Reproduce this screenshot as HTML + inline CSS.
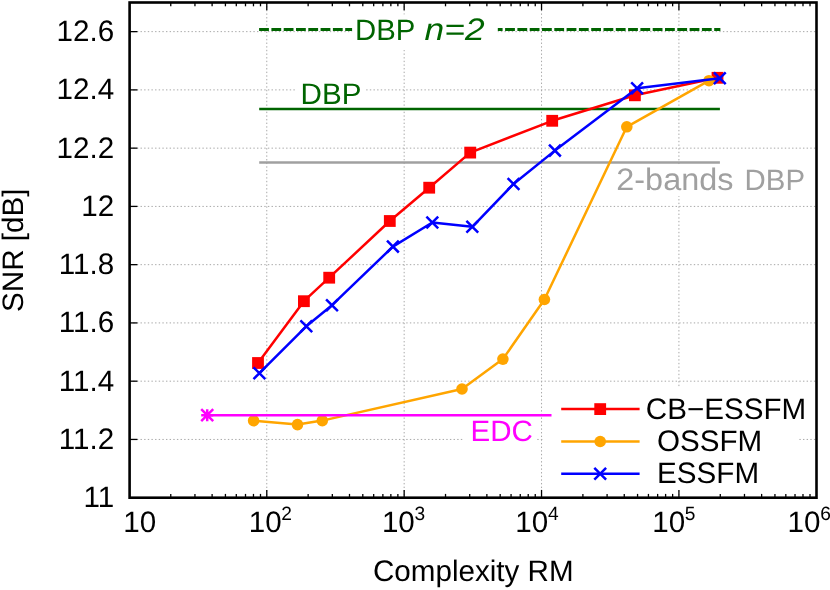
<!DOCTYPE html>
<html lang="en"><head><meta charset="utf-8"><title>SNR vs Complexity RM</title>
<style>html,body{margin:0;padding:0;background:#fff;}body{width:830px;height:590px;overflow:hidden;font-family:"Liberation Sans", sans-serif;}svg{display:block;will-change:transform;text-rendering:geometricPrecision;}text{font-family:"Liberation Sans", sans-serif;}</style>
</head><body>
<svg width="830" height="590" viewBox="0 0 830 590">
<rect x="0" y="0" width="830" height="590" fill="#ffffff"/>
<g stroke="#a8a8a8" stroke-width="1" stroke-dasharray="1.4 2.24" fill="none">
<line x1="129.60" y1="439.44" x2="816.50" y2="439.44"/>
<line x1="129.60" y1="381.18" x2="816.50" y2="381.18"/>
<line x1="129.60" y1="322.92" x2="816.50" y2="322.92"/>
<line x1="129.60" y1="264.66" x2="816.50" y2="264.66"/>
<line x1="129.60" y1="206.41" x2="816.50" y2="206.41"/>
<line x1="129.60" y1="148.15" x2="816.50" y2="148.15"/>
<line x1="129.60" y1="89.89" x2="816.50" y2="89.89"/>
<line x1="129.60" y1="31.63" x2="816.50" y2="31.63"/>
<line x1="266.78" y1="2.50" x2="266.78" y2="497.70"/>
<line x1="404.16" y1="2.50" x2="404.16" y2="497.70"/>
<line x1="541.54" y1="2.50" x2="541.54" y2="497.70"/>
<line x1="678.92" y1="2.50" x2="678.92" y2="497.70"/>
</g>
<rect x="543.5" y="387.5" width="255" height="103" fill="#ffffff"/>
<g stroke="#000000" stroke-width="1.3" fill="none">
<line x1="129.60" y1="439.44" x2="137.40" y2="439.44"/>
<line x1="129.60" y1="381.18" x2="137.40" y2="381.18"/>
<line x1="129.60" y1="322.92" x2="137.40" y2="322.92"/>
<line x1="129.60" y1="264.66" x2="137.40" y2="264.66"/>
<line x1="129.60" y1="206.41" x2="137.40" y2="206.41"/>
<line x1="129.60" y1="148.15" x2="137.40" y2="148.15"/>
<line x1="129.60" y1="89.89" x2="137.40" y2="89.89"/>
<line x1="129.60" y1="31.63" x2="137.40" y2="31.63"/>
<line x1="170.76" y1="497.70" x2="170.76" y2="493.90"/>
<line x1="170.76" y1="2.50" x2="170.76" y2="6.30"/>
<line x1="194.95" y1="497.70" x2="194.95" y2="493.90"/>
<line x1="194.95" y1="2.50" x2="194.95" y2="6.30"/>
<line x1="212.11" y1="497.70" x2="212.11" y2="493.90"/>
<line x1="212.11" y1="2.50" x2="212.11" y2="6.30"/>
<line x1="225.42" y1="497.70" x2="225.42" y2="493.90"/>
<line x1="225.42" y1="2.50" x2="225.42" y2="6.30"/>
<line x1="236.30" y1="497.70" x2="236.30" y2="493.90"/>
<line x1="236.30" y1="2.50" x2="236.30" y2="6.30"/>
<line x1="245.50" y1="497.70" x2="245.50" y2="493.90"/>
<line x1="245.50" y1="2.50" x2="245.50" y2="6.30"/>
<line x1="253.47" y1="497.70" x2="253.47" y2="493.90"/>
<line x1="253.47" y1="2.50" x2="253.47" y2="6.30"/>
<line x1="260.49" y1="497.70" x2="260.49" y2="493.90"/>
<line x1="260.49" y1="2.50" x2="260.49" y2="6.30"/>
<line x1="266.78" y1="497.70" x2="266.78" y2="489.90"/>
<line x1="266.78" y1="2.50" x2="266.78" y2="10.30"/>
<line x1="308.14" y1="497.70" x2="308.14" y2="493.90"/>
<line x1="308.14" y1="2.50" x2="308.14" y2="6.30"/>
<line x1="332.33" y1="497.70" x2="332.33" y2="493.90"/>
<line x1="332.33" y1="2.50" x2="332.33" y2="6.30"/>
<line x1="349.49" y1="497.70" x2="349.49" y2="493.90"/>
<line x1="349.49" y1="2.50" x2="349.49" y2="6.30"/>
<line x1="362.80" y1="497.70" x2="362.80" y2="493.90"/>
<line x1="362.80" y1="2.50" x2="362.80" y2="6.30"/>
<line x1="373.68" y1="497.70" x2="373.68" y2="493.90"/>
<line x1="373.68" y1="2.50" x2="373.68" y2="6.30"/>
<line x1="382.88" y1="497.70" x2="382.88" y2="493.90"/>
<line x1="382.88" y1="2.50" x2="382.88" y2="6.30"/>
<line x1="390.85" y1="497.70" x2="390.85" y2="493.90"/>
<line x1="390.85" y1="2.50" x2="390.85" y2="6.30"/>
<line x1="397.87" y1="497.70" x2="397.87" y2="493.90"/>
<line x1="397.87" y1="2.50" x2="397.87" y2="6.30"/>
<line x1="404.16" y1="497.70" x2="404.16" y2="489.90"/>
<line x1="404.16" y1="2.50" x2="404.16" y2="10.30"/>
<line x1="445.52" y1="497.70" x2="445.52" y2="493.90"/>
<line x1="445.52" y1="2.50" x2="445.52" y2="6.30"/>
<line x1="469.71" y1="497.70" x2="469.71" y2="493.90"/>
<line x1="469.71" y1="2.50" x2="469.71" y2="6.30"/>
<line x1="486.87" y1="497.70" x2="486.87" y2="493.90"/>
<line x1="486.87" y1="2.50" x2="486.87" y2="6.30"/>
<line x1="500.18" y1="497.70" x2="500.18" y2="493.90"/>
<line x1="500.18" y1="2.50" x2="500.18" y2="6.30"/>
<line x1="511.06" y1="497.70" x2="511.06" y2="493.90"/>
<line x1="511.06" y1="2.50" x2="511.06" y2="6.30"/>
<line x1="520.26" y1="497.70" x2="520.26" y2="493.90"/>
<line x1="520.26" y1="2.50" x2="520.26" y2="6.30"/>
<line x1="528.23" y1="497.70" x2="528.23" y2="493.90"/>
<line x1="528.23" y1="2.50" x2="528.23" y2="6.30"/>
<line x1="535.25" y1="497.70" x2="535.25" y2="493.90"/>
<line x1="535.25" y1="2.50" x2="535.25" y2="6.30"/>
<line x1="541.54" y1="497.70" x2="541.54" y2="489.90"/>
<line x1="541.54" y1="2.50" x2="541.54" y2="10.30"/>
<line x1="582.90" y1="497.70" x2="582.90" y2="493.90"/>
<line x1="582.90" y1="2.50" x2="582.90" y2="6.30"/>
<line x1="607.09" y1="497.70" x2="607.09" y2="493.90"/>
<line x1="607.09" y1="2.50" x2="607.09" y2="6.30"/>
<line x1="624.25" y1="497.70" x2="624.25" y2="493.90"/>
<line x1="624.25" y1="2.50" x2="624.25" y2="6.30"/>
<line x1="637.56" y1="497.70" x2="637.56" y2="493.90"/>
<line x1="637.56" y1="2.50" x2="637.56" y2="6.30"/>
<line x1="648.44" y1="497.70" x2="648.44" y2="493.90"/>
<line x1="648.44" y1="2.50" x2="648.44" y2="6.30"/>
<line x1="657.64" y1="497.70" x2="657.64" y2="493.90"/>
<line x1="657.64" y1="2.50" x2="657.64" y2="6.30"/>
<line x1="665.61" y1="497.70" x2="665.61" y2="493.90"/>
<line x1="665.61" y1="2.50" x2="665.61" y2="6.30"/>
<line x1="672.63" y1="497.70" x2="672.63" y2="493.90"/>
<line x1="672.63" y1="2.50" x2="672.63" y2="6.30"/>
<line x1="678.92" y1="497.70" x2="678.92" y2="489.90"/>
<line x1="678.92" y1="2.50" x2="678.92" y2="10.30"/>
<line x1="720.28" y1="497.70" x2="720.28" y2="493.90"/>
<line x1="720.28" y1="2.50" x2="720.28" y2="6.30"/>
<line x1="744.47" y1="497.70" x2="744.47" y2="493.90"/>
<line x1="744.47" y1="2.50" x2="744.47" y2="6.30"/>
<line x1="761.63" y1="497.70" x2="761.63" y2="493.90"/>
<line x1="761.63" y1="2.50" x2="761.63" y2="6.30"/>
<line x1="774.94" y1="497.70" x2="774.94" y2="493.90"/>
<line x1="774.94" y1="2.50" x2="774.94" y2="6.30"/>
<line x1="785.82" y1="497.70" x2="785.82" y2="493.90"/>
<line x1="785.82" y1="2.50" x2="785.82" y2="6.30"/>
<line x1="795.02" y1="497.70" x2="795.02" y2="493.90"/>
<line x1="795.02" y1="2.50" x2="795.02" y2="6.30"/>
<line x1="802.99" y1="497.70" x2="802.99" y2="493.90"/>
<line x1="802.99" y1="2.50" x2="802.99" y2="6.30"/>
<line x1="810.01" y1="497.70" x2="810.01" y2="493.90"/>
<line x1="810.01" y1="2.50" x2="810.01" y2="6.30"/>
</g>
<line x1="259.1" y1="29.5" x2="720.4" y2="29.5" stroke="#006400" stroke-width="3" stroke-dasharray="9.8 2.5"/>
<line x1="259.2" y1="109.0" x2="719.9" y2="109.0" stroke="#006400" stroke-width="2.5"/>
<line x1="259.2" y1="162.4" x2="719.9" y2="162.4" stroke="#a0a0a0" stroke-width="2.5"/>
<rect x="352.1" y="14.5" width="145.7" height="35.5" fill="#ffffff"/>
<rect x="296.5" y="79" width="68" height="27.5" fill="#ffffff"/>
<rect x="611" y="164.5" width="199" height="31.5" fill="#ffffff"/>
<rect x="464" y="417" width="73" height="30" fill="#ffffff"/>
<polyline points="258.0,363.0 303.9,301.2 329.2,277.7 389.8,221.0 429.2,187.7 470.2,152.6 552.2,120.8 634.9,95.3 717.5,77.8" fill="none" stroke="#ff0000" stroke-width="2.5" stroke-linejoin="round"/>
<rect x="252.10" y="357.10" width="11.8" height="11.8" fill="#ff0000"/>
<rect x="298.00" y="295.30" width="11.8" height="11.8" fill="#ff0000"/>
<rect x="323.30" y="271.80" width="11.8" height="11.8" fill="#ff0000"/>
<rect x="383.90" y="215.10" width="11.8" height="11.8" fill="#ff0000"/>
<rect x="423.30" y="181.80" width="11.8" height="11.8" fill="#ff0000"/>
<rect x="464.30" y="146.70" width="11.8" height="11.8" fill="#ff0000"/>
<rect x="546.30" y="114.90" width="11.8" height="11.8" fill="#ff0000"/>
<rect x="629.00" y="89.40" width="11.8" height="11.8" fill="#ff0000"/>
<rect x="711.60" y="71.90" width="11.8" height="11.8" fill="#ff0000"/>
<polyline points="253.6,420.7 297.5,424.6 322.3,420.6 462.0,389.0 502.9,359.1 544.4,299.5 626.8,126.8 709.0,80.7" fill="none" stroke="#ffa500" stroke-width="2.5" stroke-linejoin="round"/>
<circle cx="253.6" cy="420.7" r="5.8" fill="#ffa500"/>
<circle cx="297.5" cy="424.6" r="5.8" fill="#ffa500"/>
<circle cx="322.3" cy="420.6" r="5.8" fill="#ffa500"/>
<circle cx="462.0" cy="389.0" r="5.8" fill="#ffa500"/>
<circle cx="502.9" cy="359.1" r="5.8" fill="#ffa500"/>
<circle cx="544.4" cy="299.5" r="5.8" fill="#ffa500"/>
<circle cx="626.8" cy="126.8" r="5.8" fill="#ffa500"/>
<circle cx="709.0" cy="80.7" r="5.8" fill="#ffa500"/>
<polyline points="259.4,373.2 306.3,326.3 332.0,305.2 392.9,246.6 432.3,222.5 472.3,226.8 513.5,184.0 554.9,150.6 637.1,88.3 719.8,78.2" fill="none" stroke="#0000ff" stroke-width="2.5" stroke-linejoin="round"/>
<path d="M253.5 367.3L265.3 379.1M253.5 379.1L265.3 367.3" stroke="#0000ff" stroke-width="2.5" fill="none"/>
<path d="M300.4 320.4L312.2 332.2M300.4 332.2L312.2 320.4" stroke="#0000ff" stroke-width="2.5" fill="none"/>
<path d="M326.1 299.3L337.9 311.1M326.1 311.1L337.9 299.3" stroke="#0000ff" stroke-width="2.5" fill="none"/>
<path d="M387.0 240.7L398.8 252.5M387.0 252.5L398.8 240.7" stroke="#0000ff" stroke-width="2.5" fill="none"/>
<path d="M426.4 216.6L438.2 228.4M426.4 228.4L438.2 216.6" stroke="#0000ff" stroke-width="2.5" fill="none"/>
<path d="M466.4 220.9L478.2 232.7M466.4 232.7L478.2 220.9" stroke="#0000ff" stroke-width="2.5" fill="none"/>
<path d="M507.6 178.1L519.4 189.9M507.6 189.9L519.4 178.1" stroke="#0000ff" stroke-width="2.5" fill="none"/>
<path d="M549.0 144.7L560.8 156.5M549.0 156.5L560.8 144.7" stroke="#0000ff" stroke-width="2.5" fill="none"/>
<path d="M631.2 82.4L643.0 94.2M631.2 94.2L643.0 82.4" stroke="#0000ff" stroke-width="2.5" fill="none"/>
<path d="M713.9 72.3L725.7 84.1M713.9 84.1L725.7 72.3" stroke="#0000ff" stroke-width="2.5" fill="none"/>
<line x1="207.2" y1="415.25" x2="551.5" y2="415.25" stroke="#ff00ff" stroke-width="2.5"/>
<path d="M201.2 409.2L213.2 421.2M201.2 421.2L213.2 409.2M201.2 415.2L213.2 415.2M207.2 409.2L207.2 421.2" stroke="#ff00ff" stroke-width="2.5" fill="none"/>
<line x1="561.2" y1="409.1" x2="639.6" y2="409.1" stroke="#ff0000" stroke-width="2.5"/>
<rect x="594.30" y="403.20" width="11.8" height="11.8" fill="#ff0000"/>
<line x1="561.2" y1="441.5" x2="639.6" y2="441.5" stroke="#ffa500" stroke-width="2.5"/>
<circle cx="600.2" cy="441.5" r="5.8" fill="#ffa500"/>
<line x1="561.2" y1="473.8" x2="639.6" y2="473.8" stroke="#0000ff" stroke-width="2.5"/>
<path d="M594.3 467.9L606.1 479.7M594.3 479.7L606.1 467.9" stroke="#0000ff" stroke-width="2.5" fill="none"/>
<rect x="129.60" y="2.50" width="686.90" height="495.20" fill="none" stroke="#000000" stroke-width="2.6"/>
<g fill="#000000" font-size="29.6">
<text x="114.2" y="41.0" text-anchor="end">12.6</text>
<text x="114.2" y="99.3" text-anchor="end">12.4</text>
<text x="114.2" y="157.5" text-anchor="end">12.2</text>
<text x="114.2" y="215.8" text-anchor="end">12</text>
<text x="114.2" y="274.1" text-anchor="end">11.8</text>
<text x="114.2" y="332.3" text-anchor="end">11.6</text>
<text x="114.2" y="390.6" text-anchor="end">11.4</text>
<text x="114.2" y="448.8" text-anchor="end">11.2</text>
<text x="114.2" y="507.1" text-anchor="end">11</text>
<text x="123.2" y="532.3">10</text>
<text x="248.7" y="532.3">10<tspan font-size="19.2" dx="-0.3" dy="-12">2</tspan></text>
<text x="381.9" y="532.3">10<tspan font-size="19.2" dx="-0.3" dy="-12">3</tspan></text>
<text x="515.3" y="532.3">10<tspan font-size="19.2" dx="-0.3" dy="-12">4</tspan></text>
<text x="652.2" y="532.3">10<tspan font-size="19.2" dx="-0.3" dy="-12">5</tspan></text>
<text x="787.6" y="532.3">10<tspan font-size="19.2" dx="-0.3" dy="-12">6</tspan></text>
<text x="473.3" y="580.9" text-anchor="middle">Complexity RM</text>
<text transform="translate(23,250.3) rotate(-90)" text-anchor="middle">SNR [dB]</text>
<text x="645.8" y="418.8">CB−ESSFM</text>
<text x="656.9" y="451.4">OSSFM</text>
<text x="657.1" y="483.4">ESSFM</text>
</g>
<text y="39.6" font-size="29.3" fill="#006400"><tspan x="355.0">DBP</tspan> <tspan x="424.6" font-style="italic" font-size="31" textLength="60" lengthAdjust="spacingAndGlyphs">n=2</tspan></text>
<text x="300.6" y="104.4" font-size="29.6" fill="#006400">DBP</text>
<text y="190.2" font-size="29.4" fill="#a0a0a0"><tspan x="616.3" font-size="31" textLength="117.1" lengthAdjust="spacingAndGlyphs">2-bands</tspan> <tspan x="744.6">DBP</tspan></text>
<text x="470.6" y="440.6" font-size="29.5" fill="#ff00ff">EDC</text>
</svg>
</body></html>
